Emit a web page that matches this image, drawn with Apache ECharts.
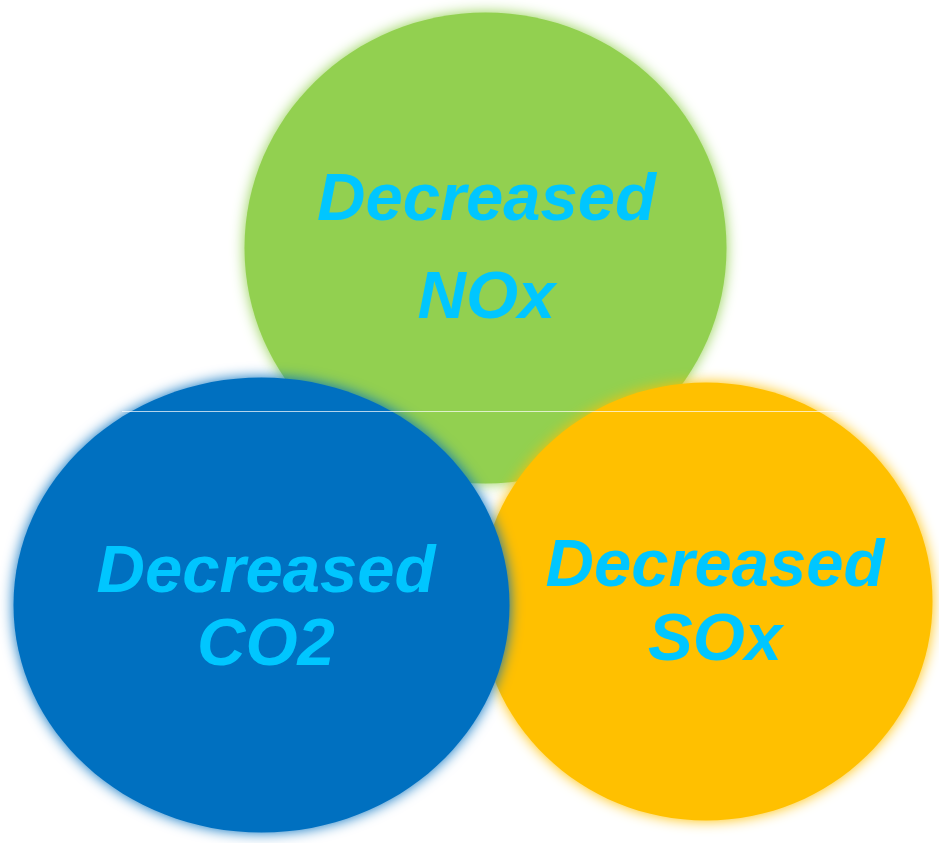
<!DOCTYPE html>
<html>
<head>
<meta charset="utf-8">
<script src="https://cdn.jsdelivr.net/npm/echarts@6/dist/echarts.min.js"></script>
<style>
html,body{margin:0;padding:0;background:#fff;}
#chart{width:939px;height:843px;}
</style>
</head>
<body>
<div id="chart"></div>
<script>
// Draw order: green (back), orange, blue (front)
const names = ['NOx', 'SOx', 'CO2'];
const prefix = ['Decreased', 'Decreased', 'Decreased'];
const centerX = [485.5, 706, 261.5];
const centerY = [248, 601.5, 605];
const radiusX = [243.5, 229, 250.5];
const radiusY = [238, 221.5, 230];
const colors = ['#92D050', '#FFC000', '#0070C0'];

// label layout (offsets from circle centre, to the top of each text line)
const labelDX = [1, 9, 4.5];
const line1DY = [-80, -67.5, -65];
const line2DY = [18, 6.5, 8];

const data = names.map((n, i) => [centerX[i], centerY[i], radiusX[i], radiusY[i], i]);

const chart = echarts.init(document.getElementById('chart'), null, {renderer: 'canvas'});
const textColor = '#00C6FF';
const font = 'italic bold 67px "Liberation Sans", Arial, sans-serif';

chart.setOption({
  animation: false,
  grid: {left: 0, right: 0, top: 0, bottom: 0},
  xAxis: {type: 'value', min: 0, max: 939, show: false},
  yAxis: {type: 'value', min: 0, max: 843, inverse: true, show: false},
  series: [{
    type: 'custom',
    coordinateSystem: 'cartesian2d',
    data: data,
    renderItem: function (params, api) {
      const i = api.value(4);
      const c = api.coord([api.value(0), api.value(1)]);
      const e = api.coord([api.value(0) + api.value(2), api.value(1) + api.value(3)]);
      const rx = Math.abs(e[0] - c[0]);
      const ry = Math.abs(e[1] - c[1]);
      return {
        type: 'group',
        children: [
          {
            type: 'ellipse',
            shape: {cx: c[0], cy: c[1], rx: rx - 2.5, ry: ry - 2.5},
            style: {fill: colors[i], shadowBlur: 14, shadowColor: colors[i]}
          },
          {
            type: 'text',
            style: {
              text: prefix[i], x: c[0] + labelDX[i], y: c[1] + line1DY[i],
              font: font, fill: textColor, align: 'center', verticalAlign: 'top'
            }
          },
          {
            type: 'text',
            style: {
              text: names[i], x: c[0] + labelDX[i], y: c[1] + line2DY[i],
              font: font, fill: textColor, align: 'center', verticalAlign: 'top'
            }
          }
        ]
      };
    }
  }],
  graphic: [{
    type: 'line',
    z: 100,
    shape: {x1: 122, y1: 411.5, x2: 842, y2: 411.5},
    style: {stroke: 'rgba(255,255,255,0.7)', lineWidth: 1}
  }]
});
</script>
</body>
</html>
